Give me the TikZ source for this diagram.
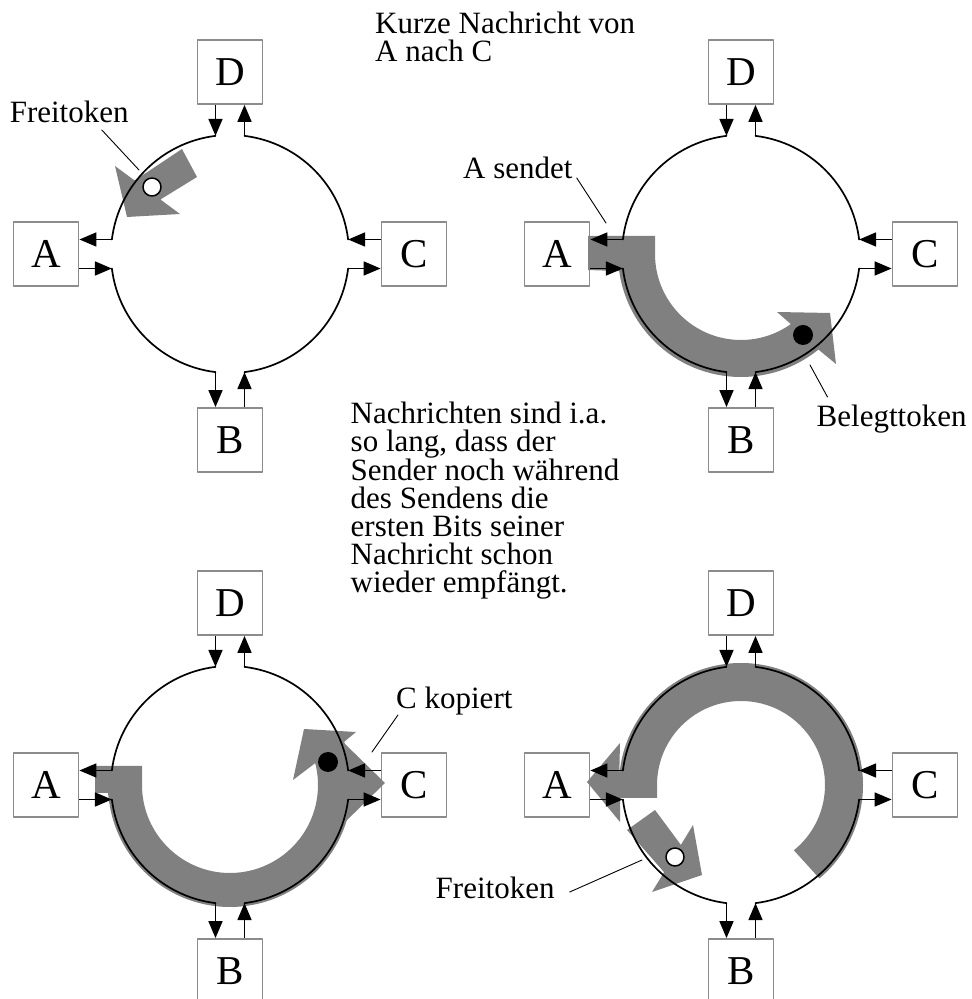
\documentclass[tikz,border=0pt]{standalone}
\usepackage{fontspec}
\setmainfont{Liberation Serif}
\usetikzlibrary{arrows.meta}
\definecolor{tokengray}{gray}{0.5}
\definecolor{boxgray}{gray}{0.55}

\begin{document}
\begin{tikzpicture}[x=1pt, y=1pt, line cap=round, line join=round,
		>={Triangle[length=17pt, width=14pt]},
		font=\fontsize{31}{28}\selectfont,
		station/.style={draw=boxgray, line width=1.8pt, fill=white, minimum width=65pt, minimum height=64pt, inner sep=0pt, font=\fontsize{41}{41}\selectfont},
		ring/.style={line width=1.7pt},
		flow/.style={->, line width=1.7pt, line cap=butt},
		token/.style={fill=tokengray},
		freetok/.style={circle, draw, fill=white, line width=1.5pt, minimum size=18pt, inner sep=0pt},
		busytok/.style={circle, fill=black, minimum size=20pt, inner sep=0pt},
		caption/.style={inner sep=0pt, anchor=base west},
		leader/.style={line width=0.9pt}]
	\useasboundingbox (0,0) rectangle (972,999);
	\pgfmathsetmacro{\R}{119}
	% stations and the ends of the four ring segments
	\foreach \n/\cx/\cy in {1/230/745, 2/741/745, 3/230/214, 4/741/214} {
		\begin{scope}[shift={(\cx,\cy)}]
			\node[station] (A\n) at (-184,0) {A};
			\node[station] (B\n) at (0,-186) {B};
			\node[station] (C\n) at (184,0) {C};
			\node[station] (D\n) at (0,182) {D};
			\foreach \a/\gap in {7/e2, 83/n1, 97/n2, 173/w1, 187/w2, 263/s1, 277/s2, 353/e1}
				\coordinate (\gap-\n) at (\a:\R);
		\end{scope}
	}
	% free token between D and A
	\begin{scope}[shift={(230,745)}]
		\fill[token] (-48,105) -- (-33,77) -- (-69.6,54.5) -- (-50,40) -- (-103,37) -- (-115,88) -- (-95.4,73.5) -- cycle;
		\node[freetok] (tok1) at (-78,67) {};
		\coordinate (p1) at (-91,84);
	\end{scope}
	% A sends, busy token runs ahead
	\begin{scope}[shift={(741,745)}]
		\fill[token] (-153,18) -- (-86,18) -- (-86,0) arc[start angle=180, end angle=305.4, radius=86]
			-- (36,-58) -- (89,-59) -- (95,-110) -- (309:123) arc[start angle=309, end angle=188, radius=123] -- (-153,-16) -- cycle;
		\node[busytok] (tok2) at (62,-81) {};
		\coordinate (p2) at (-135,31);
		\coordinate (p3) at (69,-111);
	\end{scope}
	% C copies the message
	\begin{scope}[shift={(230,214)}]
		\fill[token] (-135,19) -- (-88,19) -- (-88,0) arc[start angle=180, end angle=374.4, radius=88]
			-- (63,5) -- (74,56) -- (126,53) -- (20.7:122) arc[start angle=20.7, end angle=-172, radius=122] -- (-122,-8) -- (-135,-8) -- cycle;
		\fill[token] (114,42) -- (155,2) -- (114,-38) -- cycle;
		\node[busytok] (tok3) at (98,23) {};
		\coordinate (p4) at (142,33);
	\end{scope}
	% message back at A, new free token
	\begin{scope}[shift={(741,214)}]
		\fill[token] (-51:84) arc[start angle=-51, end angle=180, radius=84] -- (-84,-13) -- (-121,-13)
			-- (-121,-37) -- (-154,3) -- (-121,42) -- (180:122) arc[start angle=180, end angle=-50, radius=122] -- cycle;
		\fill[token] (-114,-45) -- (-86,-25) -- (-60.1,-59.9) -- (-48,-40) -- (-39,-90) -- (-89,-107) -- (-76.9,-87.2) -- cycle;
		\node[freetok] (tok4) at (-66,-72) {};
		\coordinate (p5) at (-99,-75);
	\end{scope}
	% ring segments and links to the stations
	\foreach \n/\cx/\cy in {1/230/745, 2/741/745, 3/230/214, 4/741/214} {
		\begin{scope}[shift={(\cx,\cy)}]
			\foreach \a in {7,97,187,277}
				\draw[ring] (\a:\R) arc[start angle=\a, delta angle=76, radius=\R];
		\end{scope}
		\draw[flow] (D\n.south -| n2-\n) -- (n2-\n);
		\draw[flow] (n1-\n) -- (D\n.south -| n1-\n);
		\draw[flow] (w1-\n) -- (A\n.east |- w1-\n);
		\draw[flow] (A\n.east |- w2-\n) -- (w2-\n);
		\draw[flow] (s1-\n) -- (B\n.north -| s1-\n);
		\draw[flow] (B\n.north -| s2-\n) -- (s2-\n);
		\draw[flow] (e1-\n) -- (C\n.west |- e1-\n);
		\draw[flow] (C\n.west |- e2-\n) -- (e2-\n);
	}
	% texts
	\node[inner sep=0pt, anchor=north west, align=left] (kurz) at (375,987) {Kurze Nachricht von\\A nach C};
	\node[inner sep=0pt, anchor=north west, align=left] (hinweis) at (350.5,597) {Nachrichten sind i.a.\\so lang, dass der\\Sender noch während\\des Sendens die\\ersten Bits seiner\\Nachricht schon\\wieder empfängt.};
	\node[caption] (frei1) at (9.6,876) {Freitoken};
	\node[caption] (sendet) at (463,820) {A sendet};
	\node[caption] (beleg) at (816.5,572) {Belegttoken};
	\node[caption] (kopiert) at (396,290) {C kopiert};
	\node[caption] (frei4) at (435.5,100) {Freitoken};
	\draw[leader] ([xshift=-27pt, yshift=-7pt]frei1.base east) -- (p1);
	\draw[leader] ([xshift=4pt, yshift=1pt]sendet.base east) -- (p2);
	\draw[leader] ([xshift=11pt, yshift=30pt]beleg.base west) -- (p3);
	\draw[leader] ([xshift=2pt, yshift=-6pt]kopiert.base west) -- (p4);
	\draw[leader] ([xshift=15pt, yshift=7pt]frei4.base east) -- (p5);
\end{tikzpicture}
\end{document}
